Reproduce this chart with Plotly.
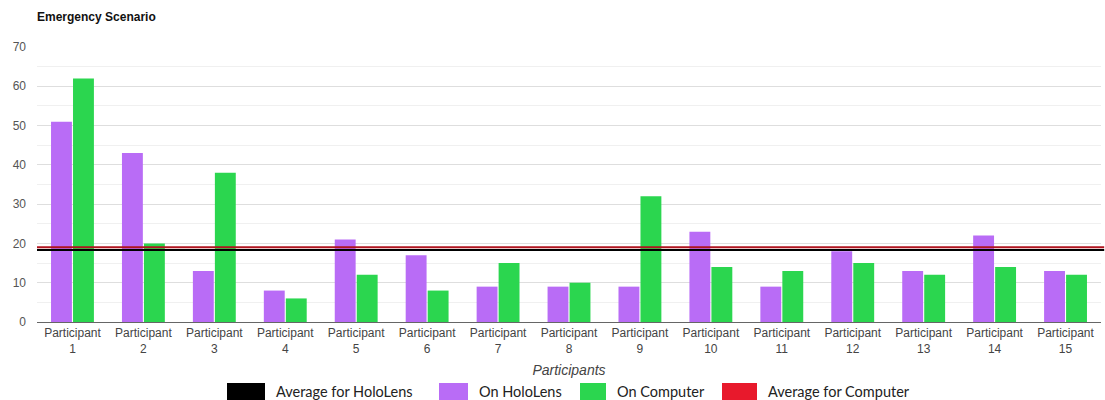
import plotly.graph_objects as go

participants = [f"Participant<br>{i}" for i in range(1, 16)]
on_hololens = [51, 43, 13, 8, 21, 17, 9, 9, 9, 23, 9, 18, 13, 22, 13]
on_computer = [62, 20, 38, 6, 12, 8, 15, 10, 32, 14, 13, 15, 12, 14, 12]
avg_hololens = 18.3
avg_computer = 19.0
y_ticks = [0, 10, 20, 30, 40, 50, 60, 70]

PURPLE = "#b96cf6"
GREEN = "#2bd64f"
RED = "#e8192c"
BLACK = "#000000"

W, H = 1105, 400
L, R, T, B = 37, 4, 47, 78
PW = W - L - R
PH = H - T - B


def px(xp):
    return (xp - L) / PW


def py(yp):
    return (H - B - yp) / PH


fig = go.Figure()
fig.add_trace(go.Bar(x=participants, y=on_hololens, name="On HoloLens",
                     marker=dict(color=PURPLE, line=dict(width=0))))
fig.add_trace(go.Bar(x=participants, y=on_computer, name="On Computer",
                     marker=dict(color=GREEN, line=dict(width=0))))

shapes = [
    dict(type="line", xref="paper", yref="y", x0=0, x1=1.003, y0=avg_computer, y1=avg_computer,
         line=dict(color="#b0141f", width=2), layer="above"),
    dict(type="line", xref="paper", yref="y", x0=0, x1=1.003, y0=avg_hololens, y1=avg_hololens,
         line=dict(color=BLACK, width=2), layer="above"),
]

# manual legend
legend_items = [
    ("Average for HoloLens", BLACK, 227, 265),
    ("On HoloLens", PURPLE, 439, 468),
    ("On Computer", GREEN, 580, 606),
    ("Average for Computer", RED, 722, 757),
]
annotations = []
for label, color, x0, x1 in legend_items:
    shapes.append(dict(type="rect", xref="paper", yref="paper",
                       x0=px(x0), x1=px(x1), y0=py(401), y1=py(383),
                       fillcolor=color, line=dict(width=0)))
    annotations.append(dict(text=label, xref="paper", yref="paper",
                            x=px(x1 + 9), y=py(391.5), xanchor="left", yanchor="middle",
                            showarrow=False,
                            font=dict(family="Lato, Arial, sans-serif", size=14.5, color="#222")))

fig.update_layout(
    width=W, height=H,
    margin=dict(l=L, r=R, t=T, b=B),
    paper_bgcolor="white", plot_bgcolor="white",
    showlegend=False,
    barmode="group", bargap=0.38, bargroupgap=0.05,
    font=dict(family="Liberation Sans, Arial, sans-serif", color="#444"),
    title=dict(text="<b>Emergency Scenario</b>", xref="container", yref="container",
               x=37 / W, xanchor="left", y=1 - 17 / H, yanchor="middle",
               font=dict(family="Liberation Sans, Arial, sans-serif", size=12, color="#111")),
    shapes=shapes,
    annotations=annotations,
)
fig.update_xaxes(
    showgrid=False, showline=True, linecolor="#666", linewidth=1,
    tickfont=dict(size=12, color="#444"), ticks="",
    title=dict(text="<i>Participants</i>", font=dict(size=14, color="#444"), standoff=10),
    range=[-0.5, 14.5],
)
fig.update_yaxes(
    range=[0, 70], tickvals=y_ticks, showgrid=True, gridcolor="#dedede", gridwidth=1,
    minor=dict(dtick=5, showgrid=True, gridcolor="#f0f0f0"),
    zeroline=False, tickfont=dict(size=12, color="#555"), ticklabelstandoff=10,
)
fig.write_html("out.html")
